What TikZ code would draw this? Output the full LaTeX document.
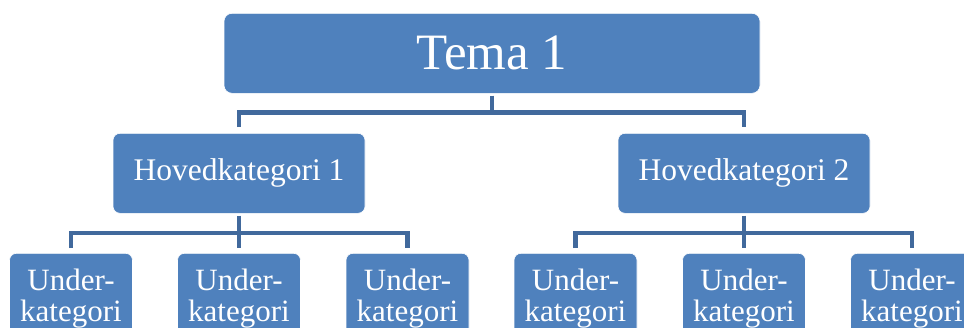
\documentclass[tikz,border=0pt]{standalone}
\usepackage{fontspec}
\setmainfont{Liberation Serif}
\definecolor{boxblue}{HTML}{4F81BD}
\definecolor{linkblue}{HTML}{41699C}
\tikzset{
  box/.style={fill=boxblue, draw=white, line width=0.6pt, rounded corners=7pt, text=white, inner sep=0pt, anchor=north},
  topbox/.style={box, minimum width=536pt, minimum height=80pt, font=\fontsize{51}{51}\selectfont, rounded corners=8pt},
  hovbox/.style={box, minimum width=252pt, minimum height=80pt, font=\fontsize{31.5}{31.5}\selectfont},
  subbox/.style={box, minimum width=123pt, minimum height=90pt, font=\fontsize{31}{31}\selectfont, align=center},
  conn/.style={draw=linkblue, line width=4.8pt, line cap=butt, line join=miter}
}
\begin{document}
\begin{tikzpicture}[x=1pt,y=-1pt]
\useasboundingbox (0,0) rectangle (964,327);
\clip (0,0) rectangle (964,327);
\fill[white] (0,0) rectangle (964,327);
\node[topbox] (top) at (492,13) {Tema 1};
\node[hovbox] (h1) at (239,133) {Hovedkategori 1};
\node[hovbox] (h2) at (744,133) {Hovedkategori 2};
\node[subbox] (s1) at (71,253) {Under-\\kategori};
\node[subbox] (s2) at (239,253) {Under-\\kategori};
\node[subbox] (s3) at (407.5,253) {Under-\\kategori};
\node[subbox] (s4) at (575.5,253) {Under-\\kategori};
\node[subbox] (s5) at (744,253) {Under-\\kategori};
\node[subbox] (s6) at (912,253) {Under-\\kategori};
\coordinate (bar0) at (0,112.5);
\coordinate (bar1) at (0,233);
% top level connectors
\draw[conn] ([yshift=-2pt]top.south) -- (top.south |- bar0);
\draw[conn] ([yshift=6pt]h1.north) |- (bar0 -| h2.north) -- ([yshift=6pt]h2.north);
% group 1
\draw[conn] ([yshift=-2pt]h1.south) -- ([yshift=5pt]s2.north);
\draw[conn] ([yshift=5pt]s1.north) |- (bar1 -| s3.north) -- ([yshift=5pt]s3.north);
% group 2
\draw[conn] ([yshift=-2pt]h2.south) -- ([yshift=5pt]s5.north);
\draw[conn] ([yshift=5pt]s4.north) |- (bar1 -| s6.north) -- ([yshift=5pt]s6.north);
\end{tikzpicture}
\end{document}
